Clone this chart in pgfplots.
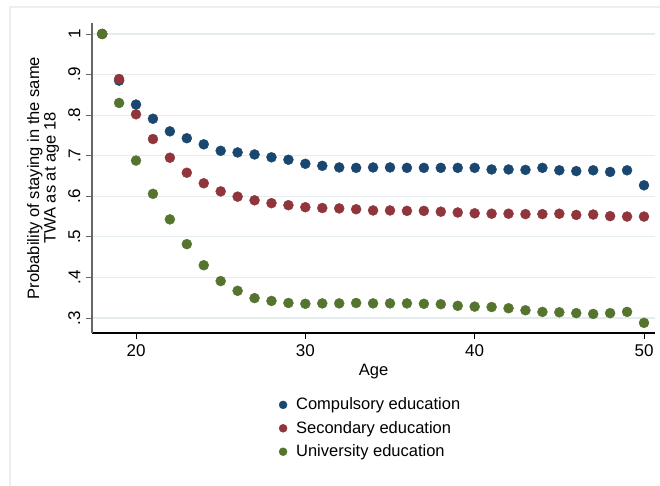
\documentclass[border=0pt]{standalone}
\usepackage{pgfplots}
\pgfplotsset{compat=1.18}
\usetikzlibrary{calc}
\usepackage{fontspec}
\setmainfont{Liberation Sans}
\definecolor{snavy}{RGB}{26,71,111}
\definecolor{smaroon}{RGB}{144,53,59}
\definecolor{sgreen}{RGB}{85,117,47}
\definecolor{sgrid}{RGB}{228,236,238}
\definecolor{sframe}{RGB}{232,240,240}
\pgfplotstableread{
age comp sec uni
18 1.000 1.000 1.000
19 0.885 0.889 0.830
20 0.826 0.802 0.688
21 0.791 0.741 0.606
22 0.760 0.695 0.543
23 0.743 0.658 0.482
24 0.728 0.632 0.430
25 0.712 0.612 0.391
26 0.708 0.599 0.367
27 0.703 0.590 0.349
28 0.696 0.583 0.342
29 0.690 0.578 0.337
30 0.680 0.573 0.335
31 0.675 0.571 0.336
32 0.671 0.570 0.336
33 0.670 0.568 0.337
34 0.671 0.565 0.336
35 0.671 0.565 0.336
36 0.670 0.564 0.336
37 0.670 0.564 0.335
38 0.670 0.562 0.334
39 0.670 0.560 0.330
40 0.670 0.558 0.328
41 0.666 0.557 0.327
42 0.666 0.557 0.324
43 0.665 0.556 0.319
44 0.670 0.556 0.315
45 0.664 0.557 0.314
46 0.662 0.554 0.312
47 0.664 0.555 0.310
48 0.660 0.551 0.312
49 0.664 0.550 0.315
50 0.627 0.550 0.288
}\data
\begin{document}
\fontsize{16.5}{19.8}\selectfont
\begin{tikzpicture}[x=1pt,y=1pt]
\begin{axis}[
  scale only axis, width=563pt, height=310pt,
  xmin=17.4, xmax=50.65, ymin=0.263, ymax=1.027,
  axis x line*=bottom, axis y line*=left,
  x axis line style={black, line width=1.1pt, -},
  y axis line style={black!60, line width=1.1pt, -},
  xtick={20,30,40,50},
  ytick={0.3,0.4,0.5,0.6,0.7,0.8,0.9,1},
  yticklabels={.3,.4,.5,.6,.7,.8,.9,1},
  tick align=outside, major tick length=6pt,
  xtick style={black, line width=0.8pt},
  ytick style={black!60, line width=0.8pt},
  ymajorgrids, grid style={sgrid, line width=1.2pt},
  tick label style={font=\fontsize{17}{20}\selectfont},
  yticklabel style={rotate=90, anchor=south},
  /pgf/number format/assume math mode=true,
  xlabel={Age},
  xlabel style={font=\fontsize{16.5}{19.8}\selectfont, yshift=4pt},
  ylabel={Probability of staying in the same\\TWA as at age 18},
  ylabel style={font=\fontsize{16.5}{16.5}\selectfont, align=center, yshift=-2pt},
  legend style={at={(0.495,-0.195)}, anchor=north, draw=none,
    font=\fontsize{16.5}{19.8}\selectfont, row sep=5pt,
    /tikz/every odd column/.append style={column sep=7pt}},
  legend image post style={mark size=4pt},
  legend cell align=left,
]
\coordinate (BL) at (rel axis cs:0,0);
\addplot[only marks, mark=*, mark size=5pt, color=snavy] table[x=age,y=comp]{\data};
\addplot[only marks, mark=*, mark size=5pt, color=smaroon] table[x=age,y=sec]{\data};
\addplot[only marks, mark=*, mark size=5pt, color=sgreen] table[x=age,y=uni]{\data};
\legend{Compulsory education, Secondary education, University education}
\end{axis}
\pgfresetboundingbox
\path[use as bounding box] ($(BL)+(-92,-153)$) rectangle ++(660,486);
\draw[sframe, line width=1.5pt] ($(BL)+(-82,-153)$) -- ++(0,479) -- ++(650,0);
\end{tikzpicture}
\end{document}
